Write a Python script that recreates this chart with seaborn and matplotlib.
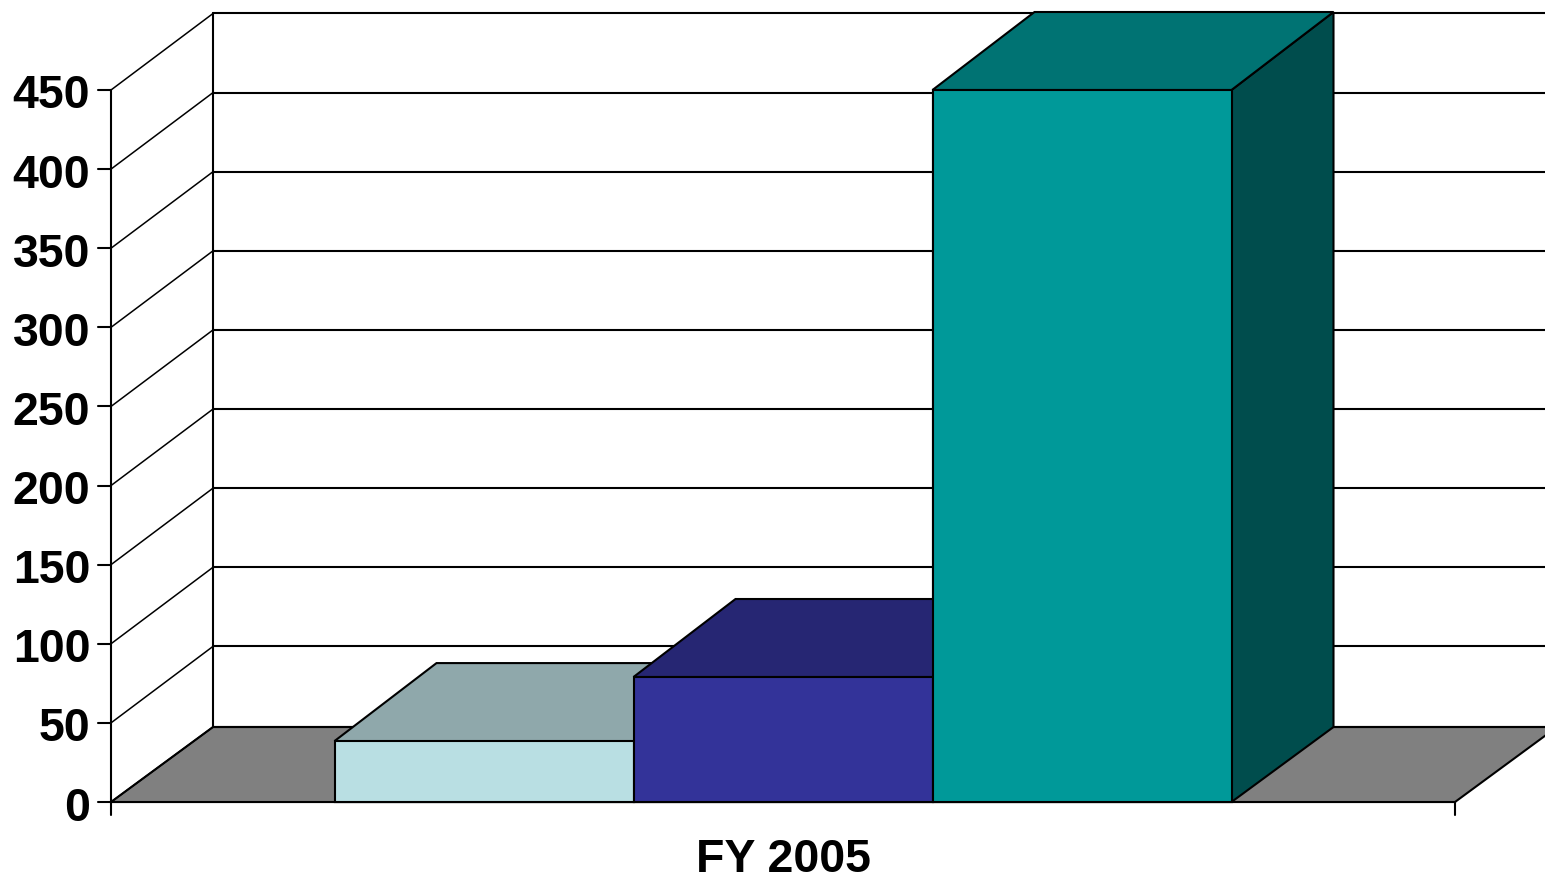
import matplotlib
matplotlib.use("Agg")
import matplotlib.pyplot as plt
from matplotlib.patches import Polygon
from matplotlib.transforms import IdentityTransform, Affine2D
import pandas as pd
import seaborn as sns

category = ["FY 2005"]
series_names = ["Series 1", "Series 2", "Series 3"]
series_values = [38.5, 79, 450]
y_ticks = [0, 50, 100, 150, 200, 250, 300, 350, 400, 450]
front_colors = ["#B9DFE3", "#333399", "#009999"]
top_colors = ["#8FA8AB", "#262673", "#007373"]
side_colors = ["#8FA8AB", "#262673", "#004D4D"]

W, H = 1545, 880
DX, DY = 102, 75  # floor depth in pixels
DY_GRID, DY_TOP = 76.5, 78  # the source's perspective is slightly uneven
LW, LW_THIN = 1.5, 1.1
sns.set_theme(style="white")
plt.rcParams["font.family"] = ["Liberation Sans", "DejaVu Sans"]
fig = plt.figure(figsize=(W / 100, H / 100), dpi=100)
ax = fig.add_axes([111 / W, (H - 802) / H, 1344 / W, 712 / H])

df = pd.DataFrame({"cat": category * 3, "series": series_names, "value": series_values})
sns.barplot(data=df, x="cat", y="value", hue="series", hue_order=series_names,
            palette=front_colors, width=897 / 1344, gap=0, dodge=True, legend=False,
            saturation=1, edgecolor="black", linewidth=LW, ax=ax, zorder=5)
ax.set_xlim(-0.5, 0.5)
ax.set_ylim(0, 450)
ax.set_yticks(y_ticks)
ax.set_xlabel("")
ax.set_ylabel("")
ax.patch.set_visible(False)
for s in ["top", "right"]:
    ax.spines[s].set_visible(False)
for s in ["left", "bottom"]:
    ax.spines[s].set_color("black")
    ax.spines[s].set_linewidth(LW)
    ax.spines[s].set_zorder(4)
ax.tick_params(axis="y", length=0, pad=15, labelsize=33.5, labelcolor="black")
ax.tick_params(axis="x", length=0, pad=26, labelsize=33.5, labelcolor="black")
ax.set_xticks([0])
ax.set_xticklabels(category, fontweight="bold", fontsize=33.5, color="black")
for t in ax.get_yticklabels():
    t.set_fontweight("bold")
    t.set_color("black")
    t.set_transform(t.get_transform() + Affine2D().translate(0, -1.5))

fig.canvas.draw()
T = ax.transData


def disp(x, y, depth=0, dy=DY):
    px, py = T.transform((x, y))
    return (px + depth * DX, py + depth * dy)


def poly(pts, fc, z, lw=LW, ec="black"):
    fig.add_artist(Polygon(pts, closed=True, facecolor=fc, edgecolor=ec, linewidth=lw,
                           transform=IdentityTransform(), zorder=z, clip_on=False))


def seg(a, b, lw=LW, z=1.5):
    fig.add_artist(plt.Line2D([a[0], b[0]], [a[1], b[1]], color="black", lw=lw,
                              transform=IdentityTransform(), zorder=z))


x0, x1 = ax.get_xlim()
# floor
poly([disp(x0, 0), disp(x1, 0), disp(x1, 0, 1), disp(x0, 0, 1)], "#808080", 1)
for v in y_ticks:
    dy = DY if v == 0 else DY_GRID
    b = disp(x0, v, 1, dy)
    seg(b, (W + 5, b[1]))              # back gridline
    a = disp(x0, v)
    seg(a, b, lw=LW_THIN)              # side wall diagonal
    seg((a[0] - 13, a[1]), a)          # front tick
seg(disp(x0, 0, 1), disp(x0, 450, 1, DY_GRID))  # back wall left edge
for xv in (x0, x1):
    a = disp(xv, 0)
    seg(a, (a[0], a[1] - 13))          # bottom end ticks

bars = list(ax.patches)[:3]
for i, (bar, v) in enumerate(zip(bars, series_values)):
    l, r = bar.get_x(), bar.get_x() + bar.get_width()
    z = 2 + i * 0.1
    poly([disp(r, 0), disp(r, 0, 1), disp(r, v, 1, DY_TOP), disp(r, v)], side_colors[i], z)
    poly([disp(l, v), disp(r, v), disp(r, v, 1, DY_TOP), disp(l, v, 1, DY_TOP)], top_colors[i], z)
    bar.set_clip_on(False)
    # front face sits above the depth faces of its neighbours
    poly([disp(l, 0), disp(r, 0), disp(r, v), disp(l, v)], front_colors[i], z + 0.05)

fig.savefig("out.png", dpi=100, facecolor="white")
